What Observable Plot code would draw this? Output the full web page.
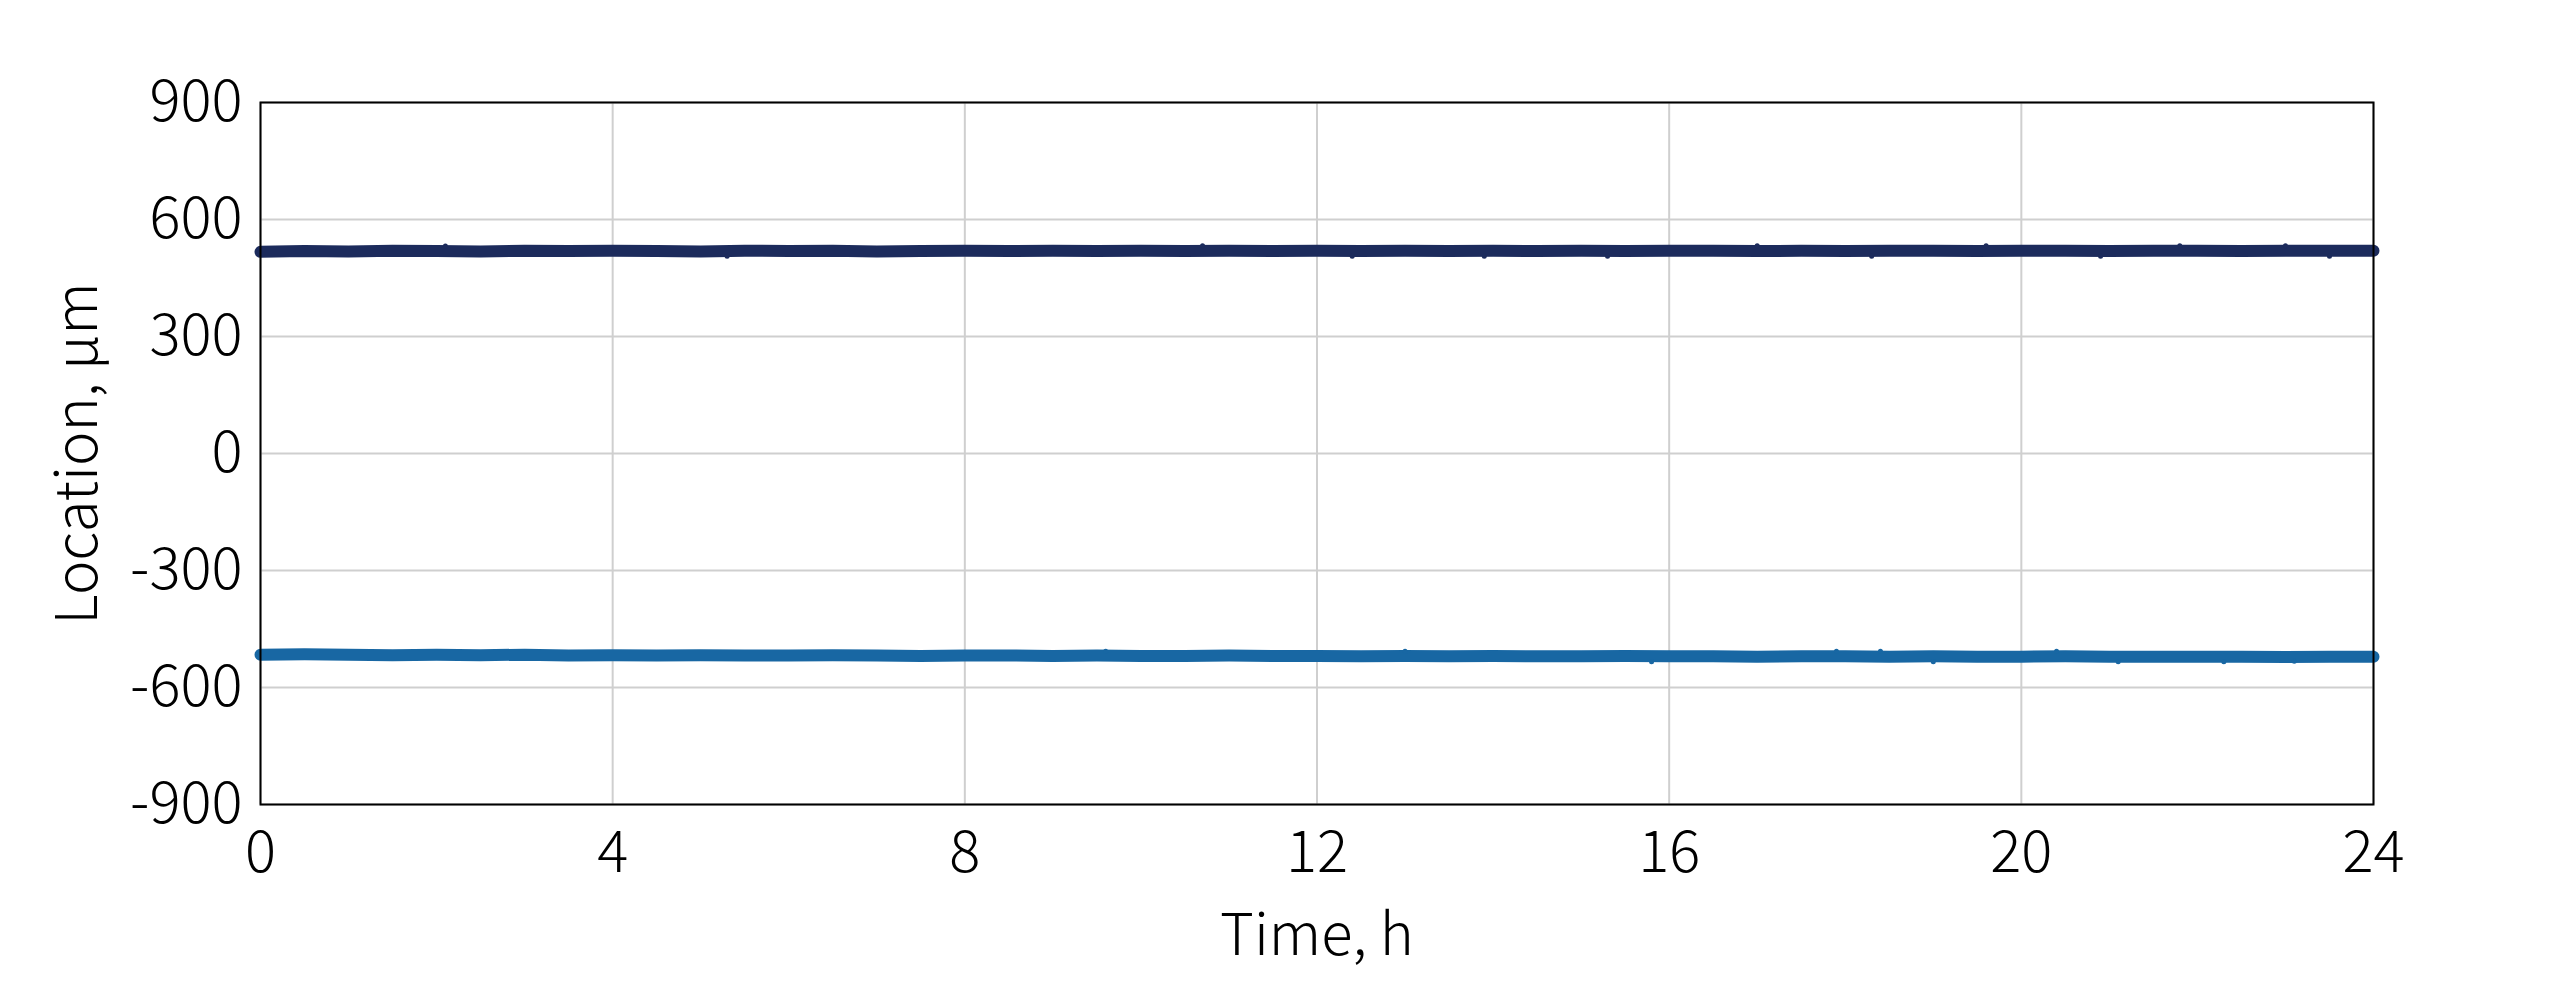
<!DOCTYPE html>
<html>
<head>
<meta charset="utf-8">
<script src="https://cdn.jsdelivr.net/npm/d3@7"></script>
<script src="https://cdn.jsdelivr.net/npm/@observablehq/plot@0.6"></script>
<style>
  html, body { margin: 0; padding: 0; background: #fff; }
  svg { font-family: "Noto Sans CJK SC", "Noto Sans", sans-serif; font-weight: 300; }
</style>
</head>
<body>
<div id="chart"></div>
<script>
// time samples (h)
const times = [0,0.5,1,1.5,2,2.5,3,3.5,4,4.5,5,5.5,6,6.5,7,7.5,8,8.5,9,9.5,10,10.5,11,11.5,12,12.5,13,13.5,14,14.5,15,15.5,16,16.5,17,17.5,18,18.5,19,19.5,20,20.5,21,21.5,22,22.5,23,23.5,24];
// upper electrode location (µm)
const upperValues = [517,519,518,520,519,518,520,519,520,519,518,520,519,520,518,519,520,519,520,519,520,519,520,519,520,519,520,519,520,519,520,519,520,520,519,520,519,520,520,519,520,520,519,520,520,519,520,520,520];
// lower electrode location (µm)
const lowerValues = [-516,-515,-516,-517,-516,-517,-516,-518,-517,-518,-517,-518,-518,-517,-518,-519,-518,-518,-519,-518,-519,-519,-518,-519,-519,-520,-519,-520,-519,-520,-520,-519,-520,-520,-521,-520,-520,-521,-520,-521,-521,-520,-521,-521,-521,-521,-522,-521,-521];
// scattered single-sample excursions
const upperSpikes = [[2.1,532],[5.3,506],[10.7,533],[12.4,506],[13.9,506],[15.3,506],[17.0,533],[18.3,506],[19.6,533],[20.9,506],[21.8,533],[23.0,533],[23.5,506]];
const lowerSpikes = [[9.6,-507],[13.0,-507],[15.8,-534],[17.9,-507],[18.4,-507],[19.0,-534],[20.4,-507],[21.1,-534],[22.3,-534],[23.1,-533]];
const yTicks = [-900,-600,-300,0,300,600,900];
const xTicks = [0,4,8,12,16,20,24];

const upper = times.map((t, i) => ({t, v: upperValues[i]}));
const lower = times.map((t, i) => ({t, v: lowerValues[i]}));
const upS = upperSpikes.map(([t, v]) => ({t, v}));
const loS = lowerSpikes.map(([t, v]) => ({t, v}));

const navy = "#1c2b5c";
const blue = "#1867a3";

const chart = Plot.plot({
  width: 2550,
  height: 990,
  marginLeft: 260,
  marginRight: 177,
  marginTop: 102,
  marginBottom: 186,
  style: {fontSize: "58px", background: "#fff", color: "#000"},
  x: {domain: [0, 24]},
  y: {domain: [-900, 900]},
  marks: [
    Plot.gridX(xTicks, {stroke: "#cfcfcf", strokeOpacity: 1, strokeWidth: 2}),
    Plot.gridY(yTicks, {stroke: "#cfcfcf", strokeOpacity: 1, strokeWidth: 2}),
    Plot.line(upper, {x: "t", y: "v", stroke: navy, strokeWidth: 12}),
    Plot.line(lower, {x: "t", y: "v", stroke: blue, strokeWidth: 12}),
    Plot.dot(upS, {x: "t", y: "v", r: 2.5, fill: navy}),
    Plot.dot(loS, {x: "t", y: "v", r: 2.5, fill: blue}),
    Plot.axisY(yTicks, {tickSize: 0, tickPadding: 18, fontSize: 58, tickFormat: d => String(d), label: "Location, μm", labelAnchor: "center", labelArrow: "none", labelOffset: 205}),
    Plot.axisX(xTicks, {tickSize: 0, tickPadding: 26, fontSize: 58, tickFormat: d => String(d), label: "Time, h", labelAnchor: "center", labelArrow: "none", labelOffset: 150}),
    Plot.frame({stroke: "#000", strokeWidth: 2})
  ]
});
document.getElementById("chart").appendChild(chart);
</script>
</body>
</html>
